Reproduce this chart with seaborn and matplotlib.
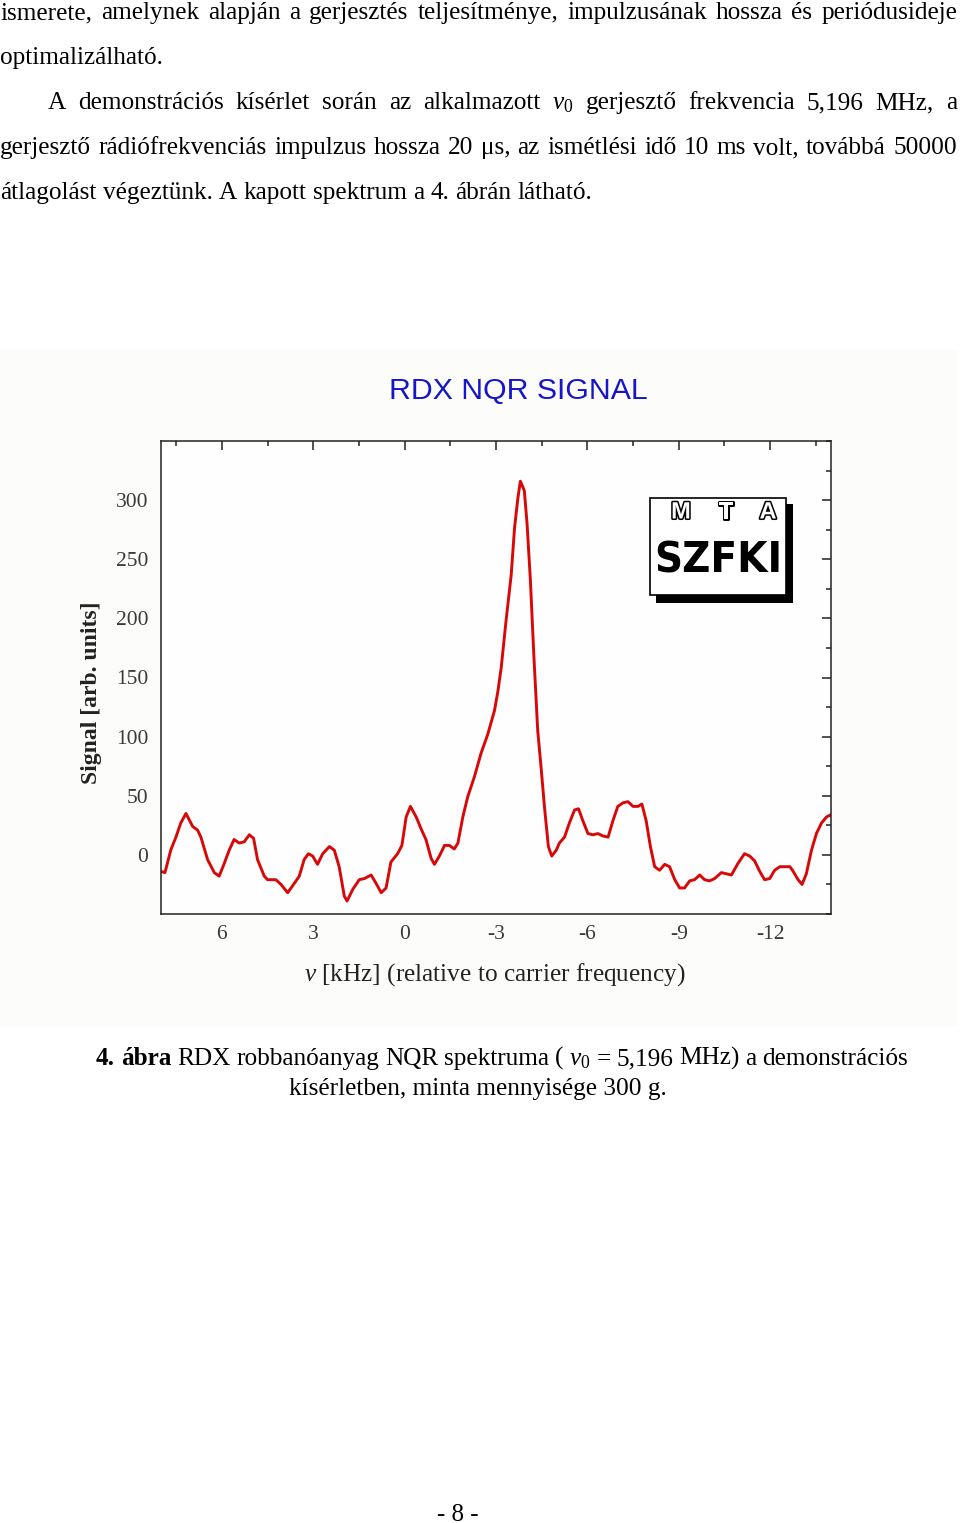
import matplotlib
matplotlib.use("Agg")
import matplotlib.pyplot as plt
import seaborn as sns
import numpy as np
import pandas as pd
from matplotlib.transforms import Affine2D
from matplotlib.patches import Rectangle
import matplotlib.patheffects as pe
from matplotlib.ticker import MultipleLocator, FixedLocator

# ---------------- data ----------------
freq_khz = [
    8.00, 7.87, 7.68, 7.51, 7.35, 7.18, 6.96, 6.80, 6.69, 6.47,
    6.25, 6.09, 5.92, 5.76, 5.60, 5.43, 5.27, 5.10, 4.96, 4.83,
    4.61, 4.50, 4.23, 4.06, 3.84, 3.62, 3.46, 3.30, 3.16, 3.02,
    2.86, 2.69, 2.47, 2.31, 2.15, 1.98, 1.89, 1.70, 1.49, 1.32,
    1.10, 0.94, 0.77, 0.61, 0.45, 0.23, 0.09, -0.05, -0.19, -0.38,
    -0.54, -0.70, -0.87, -0.98, -1.14, -1.31, -1.47, -1.63, -1.75, -1.91,
    -2.07, -2.29, -2.51, -2.73, -2.84, -2.95, -3.06, -3.17, -3.33, -3.50,
    -3.61, -3.72, -3.80, -3.93, -4.02, -4.13, -4.24, -4.37, -4.48, -4.59,
    -4.72, -4.83, -4.98, -5.08, -5.25, -5.41, -5.58, -5.71, -5.85, -6.02,
    -6.18, -6.35, -6.51, -6.68, -6.84, -7.00, -7.17, -7.33, -7.50, -7.66,
    -7.79, -7.93, -8.07, -8.21, -8.37, -8.54, -8.70, -8.87, -9.03, -9.19,
    -9.36, -9.52, -9.69, -9.85, -10.01, -10.18, -10.40, -10.56, -10.73, -10.95,
    -11.16, -11.33, -11.49, -11.66, -11.82, -11.99, -12.15, -12.32, -12.48, -12.65,
    -12.76, -12.92, -13.05, -13.19, -13.36, -13.52, -13.69, -13.85, -14.00,
]
signal = [
    -14, -15, 4, 15, 27, 35, 24, 21, 15, -4,
    -15, -18, -7, 4, 13, 10, 11, 17, 14, -4,
    -18, -21, -21, -25, -32, -24, -18, -4, 1, -1,
    -8, 1, 7, 4, -10, -35, -39, -29, -21, -20,
    -17, -24, -32, -28, -6, 1, 8, 32, 41, 32,
    22, 13, -3, -8, -1, 8, 8, 5, 10, 32,
    49, 66, 86, 102, 112, 122, 138, 158, 198, 237,
    277, 302, 316, 308, 280, 232, 170, 105, 74, 41,
    7, -1, 4, 10, 15, 27, 38, 39, 29, 18,
    17, 18, 16, 15, 29, 41, 44, 45, 41, 41,
    43, 29, 7, -10, -13, -8, -10, -21, -28, -28,
    -22, -21, -17, -21, -22, -20, -15, -16, -17, -7,
    1, -1, -5, -14, -21, -20, -13, -10, -10, -10,
    -14, -21, -25, -16, 4, 18, 27, 32, 34,
]
x_ticks = [6, 3, 0, -3, -6, -9, -12]
x_tick_labels = ["6", "3", "0", "-3", "-6", "-9", "-12"]
y_ticks = [0, 50, 100, 150, 200, 250, 300]
y_tick_labels = ["0", "50", "100", "150", "200", "250", "300"]

chart_title = "RDX NQR SIGNAL"
x_label = r"$\nu$ [kHz] (relative to carrier frequency)"
y_label = "Signal [arb. units]"

body_lines = [
    "ismerete, amelynek alapján a gerjesztés teljesítménye, impulzusának hossza és periódusideje",
    "optimalizálható.",
    r"A demonstrációs kísérlet során az alkalmazott $\nu_0$ gerjesztő frekvencia 5,196 MHz, a",
    "gerjesztő rádiófrekvenciás impulzus hossza 20 μs, az ismétlési idő 10 ms volt, továbbá 50000",
    "átlagolást végeztünk. A kapott spektrum a 4. ábrán látható.",
]
caption_bold = "4. ábra"
caption_line1 = r"RDX robbanóanyag NQR spektruma ( $\nu_0$ = 5,196 MHz) a demonstrációs"
caption_line2 = "kísérletben, minta mennyisége 300 g."
page_number = "- 8 -"

# ---------------- style ----------------
sns.set_style("white")
plt.rcParams["font.family"] = ["Liberation Serif", "DejaVu Serif"]
plt.rcParams["mathtext.fontset"] = "custom"
plt.rcParams["mathtext.rm"] = "Liberation Serif"
plt.rcParams["mathtext.it"] = "Liberation Serif:italic"
plt.rcParams["mathtext.bf"] = "Liberation Serif:bold"

W, H = 960, 1523
fig = plt.figure(figsize=(W / 100, H / 100), dpi=100, facecolor="white")
pix = Affine2D().scale(1 / W, -1 / H).translate(0, 1) + fig.transFigure
renderer = fig.canvas.get_renderer()


def text_width(t):
    return t.get_window_extent(renderer).width


def place_words(words, x0, x1, y, size, justify=True, weights=None):
    texts = []
    for i, w in enumerate(words):
        wt = weights[i] if weights else "normal"
        texts.append(fig.text(0, y, w, transform=pix, fontsize=size,
                              fontweight=wt, va="baseline", ha="left",
                              color="black"))
    widths = [text_width(t) for t in texts]
    if justify and len(words) > 1:
        gap = (x1 - x0 - sum(widths)) / (len(words) - 1)
    else:
        gap = size * 100 / 72 * 0.25
    x = x0
    for t, w in zip(texts, widths):
        t.set_position((x, y))
        x += w + gap


# ---------------- page text ----------------
body_size = 18.2
baselines = [19, 64, 109, 154, 199]
place_words(body_lines[0].split(" "), 0, 957, baselines[0], body_size)
place_words(body_lines[1].split(" "), 0, 957, baselines[1], body_size, justify=False)
place_words(body_lines[2].split(" "), 48, 957, baselines[2], body_size)
place_words(body_lines[3].split(" "), 0, 957, baselines[3], body_size)
place_words(body_lines[4].split(" "), 0, 957, baselines[4], body_size, justify=False)

# chart image background
fig.add_artist(Rectangle((0, 350), 958, 676, transform=pix, facecolor="#fcfdfb",
                         edgecolor="none", zorder=-5))

# ---------------- chart ----------------
ax = fig.add_axes([161 / W, 1 - 914 / H, 670 / W, 473 / H])
ax.set_facecolor("#fdfefd")
df = pd.DataFrame({"freq": freq_khz, "signal": signal})
sns.lineplot(data=df, x="freq", y="signal", sort=False, estimator=None,
             color="#d80808", linewidth=2.1, ax=ax)
ax.set_xlim(8, -14)
ax.set_ylim(-50, 350)
ax.xaxis.set_major_locator(FixedLocator(x_ticks))
ax.set_xticklabels(x_tick_labels)
ax.xaxis.set_minor_locator(MultipleLocator(1.5))
ax.yaxis.set_major_locator(FixedLocator(y_ticks))
ax.set_yticklabels(y_tick_labels)
ax.yaxis.set_minor_locator(MultipleLocator(25))
ax.tick_params(which="both", direction="in", top=True, right=True,
               color="#222222", labelcolor="#3a3a3a", labelsize=15.5, width=1.1)
ax.tick_params(which="major", length=6.5)
ax.tick_params(which="minor", length=3.6)
ax.tick_params(axis="y", pad=9.0)
ax.tick_params(axis="x", pad=8.0)
for s in ax.spines.values():
    s.set_color("#222222")
    s.set_linewidth(1.1)
    s.set_visible(True)

ax.set_xlabel(x_label, fontsize=18.2, color="#222222", va="center")
ax.xaxis.set_label_coords((495 - 161) / 670, (914 - 975) / 473)
ax.set_ylabel(y_label, fontsize=17, fontweight="bold", color="#222222", va="center")
ax.yaxis.set_label_coords((92 - 161) / 670, (914 - 693) / 473)
fig.text(518, 391, chart_title, transform=pix, fontsize=21.8,
         family=["Liberation Sans", "DejaVu Sans"], color="#1616c8",
         ha="center", va="center")

# ---------------- logo ----------------
fig.add_artist(Rectangle((656, 504), 137, 99, transform=pix, facecolor="black",
                         edgecolor="none", zorder=2))
fig.add_artist(Rectangle((650, 498), 136, 97, transform=pix, facecolor="white",
                         edgecolor="black", linewidth=1.2, zorder=2.1))
for ch, cx in zip(["M", "T", "A"], [681, 726, 768]):
    fig.text(cx, 512, ch, transform=pix, fontsize=17, fontweight="bold",
             family=["Liberation Sans", "DejaVu Sans"],
             ha="center", va="center", color="white", zorder=4,
             path_effects=[pe.withStroke(linewidth=2.2, foreground="black")])
logo_txt = fig.text(718, 561, "SZFKI", transform=pix, fontsize=40, fontweight="bold",
                    family=["DejaVu Sans"], fontstretch="condensed",
                    ha="center", va="center", color="black", zorder=4)
logo_txt.set_fontsize(40 * 128 / text_width(logo_txt))

# ---------------- caption ----------------
cap_size = 18.2
cap_words = caption_bold.split(" ") + caption_line1.split(" ")
cap_weights = ["bold", "bold"] + ["normal"] * len(caption_line1.split(" "))
place_words(cap_words, 96, 908, 1065, cap_size, weights=cap_weights)
fig.text(478, 1095, caption_line2, transform=pix, fontsize=cap_size,
         ha="center", va="baseline", color="black")

fig.text(458, 1521, page_number, transform=pix, fontsize=18,
         ha="center", va="baseline", color="black")

fig.savefig("out.png", dpi=100, facecolor="white")
